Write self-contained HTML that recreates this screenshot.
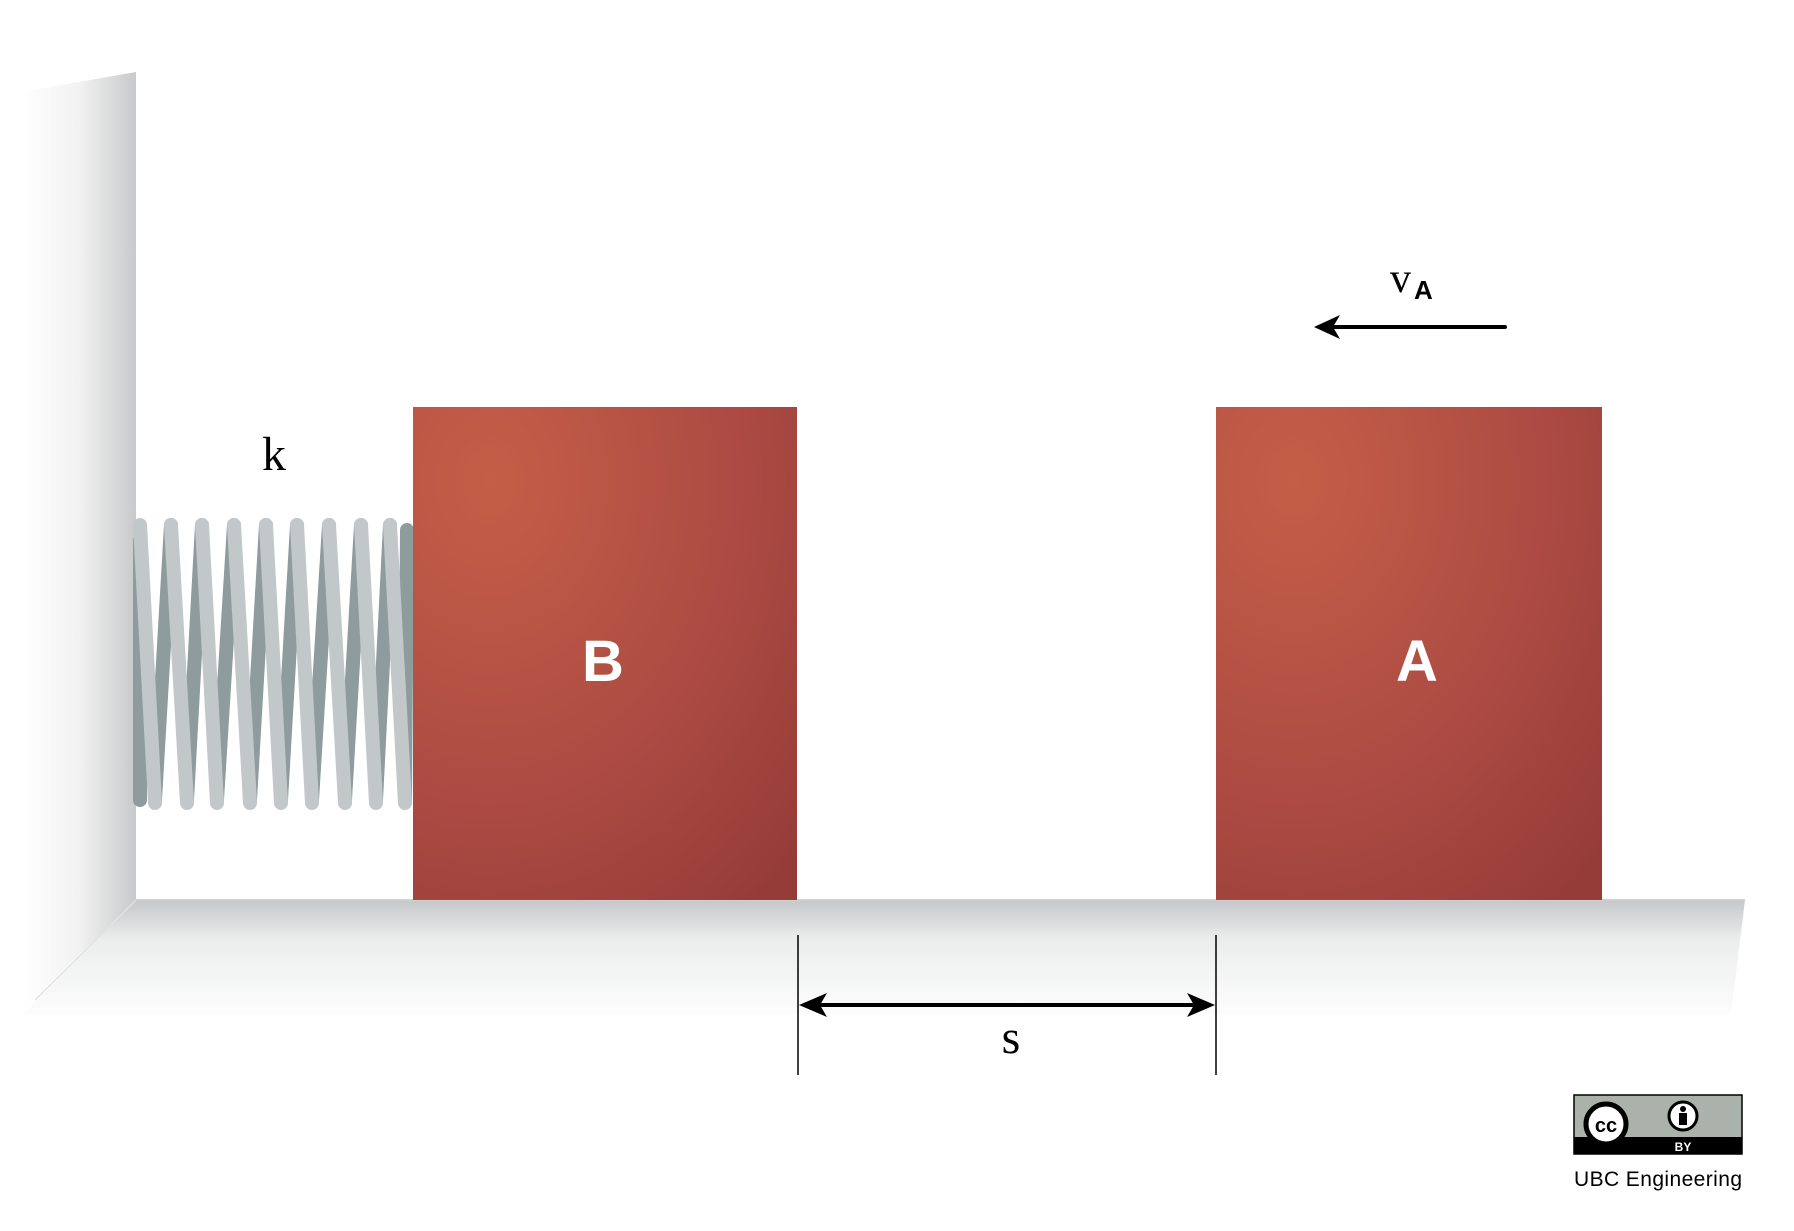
<!DOCTYPE html>
<html><head><meta charset="utf-8"><style>
html,body{margin:0;padding:0;background:#fff;}
svg{display:block;}
</style></head><body>
<svg width="1794" height="1231" viewBox="0 0 1794 1231" xmlns="http://www.w3.org/2000/svg">
<defs>
<linearGradient id="wallG" x1="0" x2="1" y1="0" y2="0">
<stop offset="0" stop-color="#fff"/><stop offset="0.5" stop-color="#f2f2f2"/><stop offset="1" stop-color="#c8c9cb"/>
</linearGradient>
<linearGradient id="floorG" x1="0" x2="0" y1="0" y2="1">
<stop offset="0" stop-color="#c6c7c9"/><stop offset="0.35" stop-color="#eceded"/><stop offset="1" stop-color="#fdfdfd"/>
</linearGradient>
<radialGradient id="blockG" cx="0.2" cy="0.15" r="1.1">
<stop offset="0" stop-color="#c45f46"/><stop offset="0.55" stop-color="#ae4c44"/><stop offset="1" stop-color="#963c38"/>
</radialGradient>
</defs>
<polygon points="22,92 136,72 136,900 22,1010" fill="url(#wallG)"/>
<polygon points="136,900 1745,900 1731,1015 22,1015" fill="url(#floorG)"/>
<line x1="136" y1="900" x2="35" y2="1000" stroke="#e2e2e2" stroke-width="1.5"/>
<line x1="136" y1="900" x2="1745" y2="900" stroke="#d0d0d0" stroke-width="2"/>
<g stroke-linecap="round" stroke-width="14" fill="none">
<g stroke="#8e9c9e">
<line x1="140" y1="800" x2="140" y2="540"/>
<line x1="155" y1="800" x2="171" y2="525"/>
<line x1="187" y1="800" x2="202" y2="525"/>
<line x1="217" y1="800" x2="234" y2="525"/>
<line x1="250" y1="800" x2="266" y2="525"/>
<line x1="281" y1="800" x2="297" y2="525"/>
<line x1="312" y1="800" x2="329" y2="525"/>
<line x1="345" y1="800" x2="361" y2="525"/>
<line x1="376" y1="800" x2="390" y2="525"/>
<line x1="405" y1="800" x2="407" y2="530"/>
</g>
<g stroke="#c2c8ca">
<line x1="140" y1="525" x2="155" y2="803"/>
<line x1="171" y1="525" x2="187" y2="803"/>
<line x1="202" y1="525" x2="217" y2="803"/>
<line x1="234" y1="525" x2="250" y2="803"/>
<line x1="266" y1="525" x2="281" y2="803"/>
<line x1="297" y1="525" x2="312" y2="803"/>
<line x1="329" y1="525" x2="345" y2="803"/>
<line x1="361" y1="525" x2="376" y2="803"/>
<line x1="390" y1="525" x2="405" y2="803"/>
</g>
</g>
<text x="274" y="470" font-family="Liberation Serif, serif" font-size="48" text-anchor="middle" fill="#000">k</text>
<rect x="413" y="407" width="384" height="493" fill="url(#blockG)"/>
<text x="603" y="681" font-family="Liberation Sans, sans-serif" font-weight="bold" font-size="58" text-anchor="middle" fill="#fff">B</text>
<rect x="1216" y="407" width="386" height="493" fill="url(#blockG)"/>
<text x="1417" y="681" font-family="Liberation Sans, sans-serif" font-weight="bold" font-size="58" text-anchor="middle" fill="#fff">A</text>
<g>
<text x="1390" y="292" font-family="Liberation Serif, serif" font-size="42" fill="#000">v</text>
<text x="1414" y="299" font-family="Liberation Sans, sans-serif" font-weight="bold" font-size="26" fill="#000">A</text>
</g>
<g>
<line x1="1330" y1="327" x2="1505" y2="327" stroke="#000" stroke-width="4" stroke-linecap="round"/>
<path d="M1314,327 L1340,315 L1333,327 L1340,339 Z" fill="#000"/>
</g>
<g>
<line x1="798" y1="935" x2="798" y2="1075" stroke="#000" stroke-width="1.5"/>
<line x1="1216" y1="935" x2="1216" y2="1075" stroke="#000" stroke-width="1.5"/>
<line x1="815" y1="1005" x2="1200" y2="1005" stroke="#000" stroke-width="4"/>
<path d="M799,1005 L827,993 L820,1005 L827,1017 Z" fill="#000"/>
<path d="M1215,1005 L1187,993 L1194,1005 L1187,1017 Z" fill="#000"/>
<text x="1011" y="1053" font-family="Liberation Serif, serif" font-size="48" text-anchor="middle" fill="#000">s</text>
</g>
<g>
<rect x="1574" y="1095" width="168" height="59" fill="#aab2ab" stroke="#000" stroke-width="1.5"/>
<rect x="1574" y="1137" width="168" height="17" fill="#000"/>
<circle cx="1606" cy="1124" r="20" fill="#fff" stroke="#000" stroke-width="5"/>
<text x="1606" y="1132" font-family="Liberation Sans, sans-serif" font-weight="bold" font-size="20" text-anchor="middle" fill="#000">cc</text>
<circle cx="1683" cy="1116" r="14" fill="#fff" stroke="#000" stroke-width="3"/>
<circle cx="1683" cy="1109" r="3" fill="#000"/>
<rect x="1679" y="1113" width="8" height="12" fill="#000"/>
<text x="1683" y="1151" font-family="Liberation Sans, sans-serif" font-weight="bold" font-size="12" text-anchor="middle" fill="#fff">BY</text>
</g>
<text x="1574" y="1186" font-family="Liberation Sans, sans-serif" font-size="21" textLength="168" fill="#000">UBC Engineering</text>
</svg>
</body></html>
